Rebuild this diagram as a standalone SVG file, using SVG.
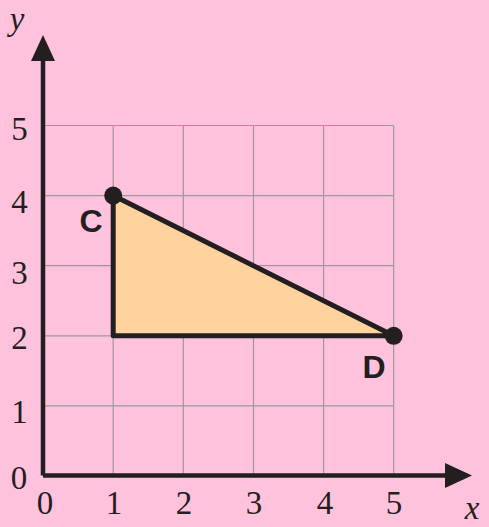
<svg xmlns="http://www.w3.org/2000/svg" width="489" height="527" viewBox="0 0 489 527">
<style>
.grid{stroke:#9a9a9a;stroke-width:1.2;fill:none}
.axis{stroke:#231f20;stroke-width:4.5;fill:none}
.num{font-family:"Liberation Serif",serif;font-size:33px;fill:#231f20;text-anchor:middle}
.var{font-family:"Liberation Serif",serif;font-style:italic;font-size:33px;fill:#231f20;text-anchor:middle}
.lbl{font-family:"Liberation Sans",sans-serif;font-weight:bold;font-size:32px;fill:#231f20;text-anchor:middle}
.pt{fill:#231f20}
</style>
<rect width="489" height="527" fill="#ffc2dc"/>
<g id="grid" class="grid">
<path d="M113.2 125.5V475.5M183.3 125.5V475.5M253.5 125.5V475.5M323.6 125.5V475.5M393.7 125.5V475.5"/>
<path d="M43 125.5H393.7M43 195.6H393.7M43 265.7H393.7M43 335.8H393.7M43 405.8H393.7"/>
</g>
<g id="triangle">
<polygon points="113.2,195.6 113.2,335.8 393.7,335.8" fill="#ffd29e" stroke="#231f20" stroke-width="5" stroke-linejoin="round"/>
</g>
<g id="axes">
<path class="axis" d="M43 475.5H450M43 475.5V58"/>
<polygon class="pt" points="472,475.5 445,463 445,488"/>
<polygon class="pt" points="43,35 31,61 55,61"/>
</g>
<g id="C"><circle class="pt" cx="113.2" cy="195.6" r="9"/><text class="lbl" x="91" y="232">C</text></g>
<g id="D"><circle class="pt" cx="393.7" cy="335.8" r="9"/><text class="lbl" x="374" y="377.5">D</text></g>
<g id="labels">
<text class="num" x="19.5" y="139.5">5</text>
<text class="num" x="19.5" y="213">4</text>
<text class="num" x="19.5" y="284">3</text>
<text class="num" x="19.5" y="349">2</text>
<text class="num" x="19.5" y="423">1</text>
<text class="num" x="19" y="489">0</text>
<text class="num" x="45" y="514">0</text>
<text class="num" x="114" y="514">1</text>
<text class="num" x="184" y="514">2</text>
<text class="num" x="254" y="514">3</text>
<text class="num" x="325" y="514">4</text>
<text class="num" x="394" y="514">5</text>
<text class="var" x="472" y="519">x</text>
<text class="var" x="17" y="30">y</text>
</g>
</svg>
